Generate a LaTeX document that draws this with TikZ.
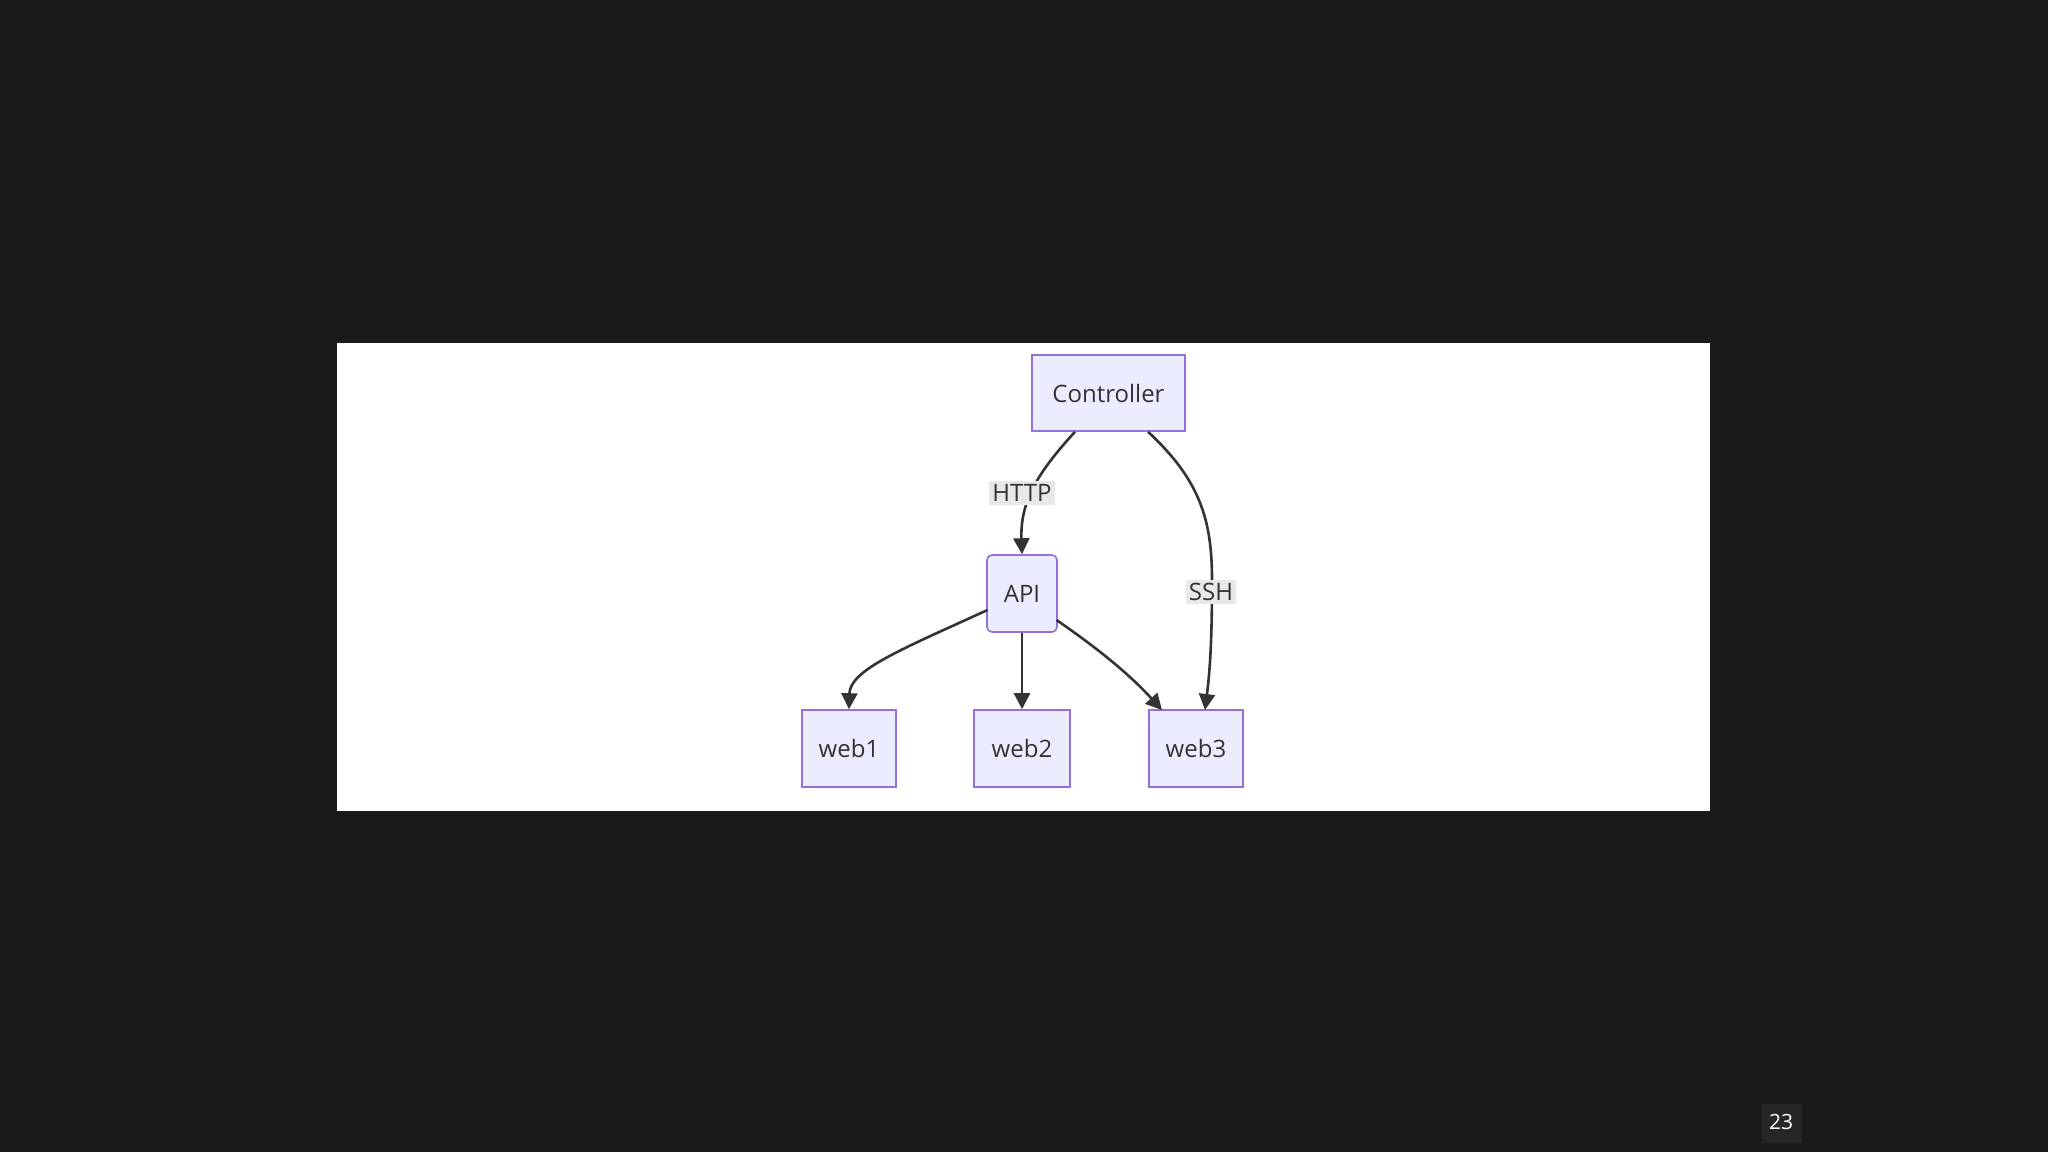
\documentclass[tikz,border=0pt]{standalone}
\usepackage{fontspec}
\setmainfont{Open Sans}
\usetikzlibrary{arrows.meta}
\definecolor{bgc}{HTML}{1A1A1A}
\definecolor{nfill}{HTML}{ECECFF}
\definecolor{nline}{HTML}{9370DB}
\definecolor{lbl}{HTML}{E8E8E8}
\definecolor{edge}{HTML}{333333}
\begin{document}
\begin{tikzpicture}[x=1pt,y=-1pt,
  box/.style={draw=nline,fill=nfill,line width=1.6pt,inner sep=0pt,font=\fontsize{24}{28}\selectfont,text=edge},
  elab/.style={fill=lbl,inner sep=3pt,font=\fontsize{24}{28}\selectfont,text=edge},
  conn/.style={draw=edge,line width=2.6pt,-{Triangle[length=16pt,width=16pt]}}]
\fill[bgc] (0,0) rectangle (2048,1152);
\useasboundingbox (0,0) rectangle (2048,1152);
\fill[white] (337,343) rectangle (1710,811);
\node[box,minimum width=153pt,minimum height=76pt] (ctl) at (1108.5,393) {Controller};
\node[box,rounded corners=5pt,minimum width=70pt,minimum height=77pt] (api) at (1022,593.5) {API};
\node[box,minimum width=94pt,minimum height=77pt] (w1) at (849,748.5) {web1};
\node[box,minimum width=96pt,minimum height=77pt] (w2) at (1022,748.5) {web2};
\node[box,minimum width=94pt,minimum height=77pt] (w3) at (1196,748.5) {web3};
\coordinate (c1) at (1075,431.8);
\coordinate (c2) at (1148,431.8);
\coordinate (a1) at (987.5,610);
\coordinate (a2) at (1056.5,620);
\coordinate (t3a) at (1162,710);
\coordinate (t3b) at (1205,710);
\draw[conn] (c1) .. controls (1040,470) and (1020,500) .. (api.north);
\node[elab] (http) at (1022,493) {HTTP};
\draw[conn] (c2) .. controls (1200,480) and (1212,520) .. (1212,580) .. controls (1212,640) and (1210,670) .. (t3b);
\node[elab] (ssh) at (1211,592) {SSH};
\draw[conn] (a1) .. controls (900,650) and (850,670) .. (w1.north);
\draw[conn] (api.south) -- (w2.north);
\draw[conn] (a2) .. controls (1100,650) and (1130,675) .. (t3a);
\fill[black!85] (1762,1104) rectangle (1802,1143);
\node[text=white,font=\fontsize{21}{24}\selectfont] (pg) at (1781,1122) {23};
\end{tikzpicture}
\end{document}
